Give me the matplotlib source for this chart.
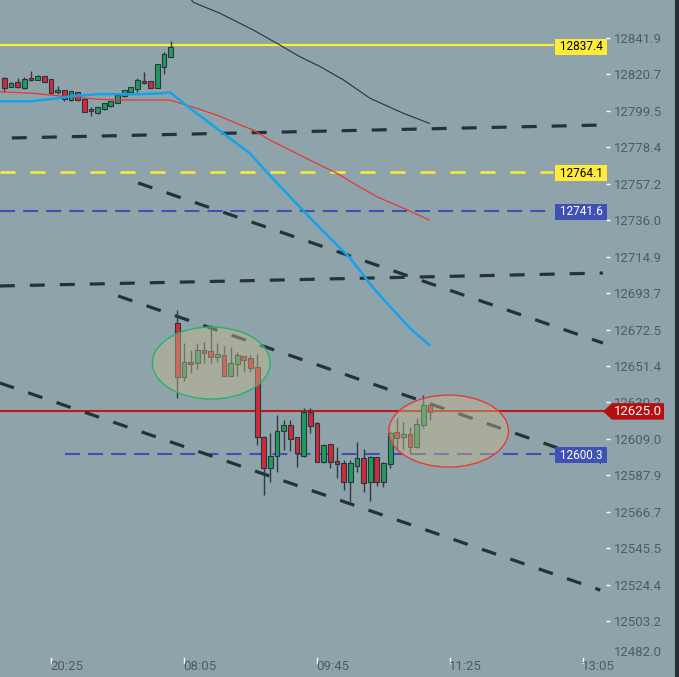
import numpy as np
import matplotlib
matplotlib.use("Agg")
import matplotlib.pyplot as plt
from matplotlib.patches import Ellipse, Polygon, Rectangle
from matplotlib.transforms import blended_transform_factory

plt.rcParams['font.family'] = ['Roboto', 'DejaVu Sans']
plt.rcParams['lines.scale_dashes'] = False

# ---- data ----
idx = np.arange(-27, 38)
opens = [12818.3, 12813.5, 12816.0, 12812.9, 12818.3, 12817.5, 12819.5, 12817.7, 12810.2, 12811.6,
         12805.6, 12810.2, 12806.3, 12800.5, 12798.4, 12800.3, 12802.5, 12804.2, 12807.9, 12810.6,
         12812.3, 12816.8, 12816.8, 12812.9, 12825.1, 12830.9,
         12676.5, 12644.8, 12653.7, 12652.9, 12660.5, 12659.9, 12656.7, 12657.6, 12645.7, 12652.3,
         12656.9, 12655.8, 12650.6, 12610.3, 12592.3, 12599.3, 12613.5, 12616.9, 12610.0, 12599.3,
         12624.8, 12618.1, 12595.8, 12605.9, 12596.2, 12594.9, 12584.2, 12593.5, 12597.8, 12584.2,
         12598.4, 12584.2, 12594.3, 12612.9, 12610.0, 12611.7, 12604.5, 12617.1, 12628.7]
highs = [12819.3, 12816.0, 12818.3, 12818.9, 12822.6, 12820.0, 12819.8, 12817.8, 12813.9, 12811.8,
         12811.2, 12810.4, 12806.5, 12801.5, 12801.8, 12804.0, 12805.4, 12808.7, 12811.6, 12813.3,
         12818.3, 12822.0, 12817.0, 12826.6, 12833.6, 12840.0,
         12683.9, 12664.9, 12660.7, 12664.9, 12665.5, 12675.2, 12664.9, 12663.0, 12662.6, 12659.5,
         12657.1, 12657.6, 12658.3, 12610.5, 12612.7, 12622.9, 12620.0, 12620.0, 12610.2, 12626.8,
         12626.8, 12618.7, 12606.0, 12606.3, 12604.5, 12596.8, 12596.8, 12607.4, 12603.2, 12599.0,
         12598.8, 12595.5, 12613.5, 12621.0, 12619.0, 12616.1, 12621.0, 12634.5, 12629.7]
lows = [12810.4, 12813.1, 12812.5, 12812.1, 12817.0, 12817.2, 12816.0, 12809.4, 12809.2, 12805.4,
        12805.2, 12805.2, 12798.8, 12796.5, 12797.8, 12800.0, 12801.9, 12804.0, 12807.6, 12810.4,
        12810.6, 12815.0, 12812.7, 12812.7, 12821.0, 12830.7,
        12632.6, 12642.8, 12647.5, 12649.4, 12652.9, 12653.3, 12653.9, 12645.5, 12645.5, 12645.7,
        12647.7, 12648.1, 12605.5, 12576.5, 12584.2, 12590.0, 12602.6, 12602.2, 12592.9, 12598.5,
        12612.3, 12595.5, 12595.0, 12592.0, 12586.2, 12579.4, 12572.6, 12590.0, 12578.4, 12573.2,
        12581.7, 12581.0, 12592.0, 12603.0, 12603.0, 12600.3, 12603.5, 12615.2, 12620.0]
closes = [12812.9, 12815.4, 12813.1, 12817.7, 12817.2, 12819.5, 12816.4, 12809.6, 12811.6, 12806.1,
          12810.8, 12805.6, 12799.0, 12799.2, 12801.5, 12803.8, 12805.2, 12808.5, 12811.4, 12813.1,
          12817.2, 12815.4, 12812.9, 12826.4, 12832.4, 12836.3,
          12644.8, 12653.5, 12652.3, 12660.5, 12659.1, 12656.7, 12658.1, 12645.7, 12652.9, 12657.6,
          12654.6, 12650.0, 12610.0, 12592.3, 12599.3, 12613.5, 12616.9, 12608.8, 12600.7, 12624.8,
          12616.7, 12595.8, 12605.3, 12595.5, 12594.3, 12584.2, 12594.9, 12597.8, 12583.6, 12598.4,
          12584.2, 12594.9, 12612.7, 12609.4, 12611.7, 12604.5, 12617.7, 12628.7, 12624.8]

# moving averages (vertices)
ma_blue_x = [-28, -23, -19, -16.7, -12.6, -7.7, -3.6, -2.1, 0.9, 5.9, 9.9, 12.4, 16.4, 20.0, 25.0, 28.5, 31.0, 34.0, 36.9]
ma_blue_y = [12805.0, 12805.0, 12806.7, 12808.1, 12809.2, 12809.0, 12809.6, 12810.2, 12800.9, 12786.4, 12774.8,
             12764.1, 12747.7, 12733.2, 12713.9, 12696.5, 12685.8, 12673.2, 12663.6]
ma_red_x = [-28, -22.7, -17.6, -12.6, -7.7, -2.1, 1.9, 4.9, 7.9, 10.4, 12.9, 16.9, 19.4, 23.0, 25.5, 29.0, 33.0, 36.9]
ma_red_y = [12810.6, 12809.6, 12807.7, 12806.1, 12805.7, 12805.7, 12800.9, 12797.0, 12792.2, 12788.3, 12782.5,
            12774.8, 12769.9, 12763.2, 12757.4, 12749.6, 12742.9, 12736.1]
ma_black_x = [1.0, 1.4, 5.4, 10.4, 14.4, 17.4, 20.5, 24.0, 28.0, 33.0, 36.9]
ma_black_y = [12864.5, 12862.4, 12856.1, 12846.4, 12837.7, 12830.9, 12825.1, 12817.3, 12806.7, 12798.0, 12792.2]

# trend lines (x0, x1, y0, y1)
trend_x0 = [-25.9, -6.9, -27.7, -9.9, -27.7]
trend_x1 = [62.6, 63.0, 63.0, 62.7, 62.6]
trend_y0 = [12783.7, 12757.6, 12697.8, 12692.0, 12641.5]
trend_y1 = [12791.2, 12664.7, 12705.3, 12595.1, 12521.3]

# horizontal levels
level_yellow_solid = 12837.4
level_yellow_dash = 12764.1
level_blue_1 = 12741.6
level_blue_2 = 12600.3
last_price = 12625.0

# ellipses: center x, center y, width, height
ell_cx = [4.1, 39.8]
ell_cy = [12653.1, 12613.6]
ell_w = [17.7, 18.0]
ell_h = [41.8, 41.8]
ell_ec = ['#22b46e', '#e8393f']

ytick_vals = [12841.9, 12820.7, 12799.5, 12778.4, 12757.2, 12736.0, 12714.9, 12693.7, 12672.5,
              12651.4, 12630.2, 12609.0, 12587.9, 12566.7, 12545.5, 12524.4, 12503.2]
xtick_pos = [-20, 0, 20, 40, 60]
xtick_labels = ['20:25', '08:05', '09:45', '11:25', '13:05']

BG = '#8fa3ab'
DARK = '#263238'
TXT = '#4f5c64'
YEL = '#ffeb3b'
BLUE = '#3f51b5'
RED = '#d12a3a'
GREEN = '#1f9b5f'

fig = plt.figure(figsize=(6.79, 6.77), dpi=100, facecolor=BG)
ax = fig.add_axes([0, 0, 606 / 679, 1])
ax.set_facecolor(BG)
ax.set_xlim(-27.67, 63.46)
ax.set_ylim(12470.86, 12863.78)
for s in ax.spines.values():
    s.set_visible(False)

# horizontal levels
ax.axhline(level_yellow_solid, xmin=0, xmax=553 / 606, color=YEL, lw=1.6, zorder=2)
ax.axhline(level_yellow_dash, xmin=0, xmax=553 / 606, color=YEL, lw=1.8, dashes=(10.8, 10.8), zorder=2)
ax.axhline(level_blue_1, xmin=0, xmax=553 / 606, color=BLUE, lw=1.5, dashes=(10.8, 5.8), zorder=2)
ax.axhline(level_blue_2, xmin=65 / 606, xmax=558 / 606, color=BLUE, lw=1.5, dashes=(10.8, 5.8), zorder=2)
ax.axhline(last_price + 1.0, color='#1e7a3c', lw=0.5, zorder=2)
ax.axhline(last_price, color='#c01818', lw=1.5, zorder=2.1)

# trend lines
for x0, x1, y0, y1 in zip(trend_x0, trend_x1, trend_y0, trend_y1):
    ax.plot([x0, x1], [y0, y1], color=DARK, lw=2.3, dashes=(10.8, 10.8),
            solid_capstyle='butt', dash_capstyle='butt', zorder=3)

# candles
o = np.array(opens); c = np.array(closes)
cols = np.where(c >= o, GREEN, RED)
ax.vlines(idx, lows, highs, color='#2e3b42', lw=1.0, zorder=4)
body = np.where(np.abs(c - o) < 0.8, 0.8, c - o)
ax.bar(idx, body, bottom=o, width=0.72, color=cols, edgecolor='#2b363c', linewidth=0.8, zorder=5)

# moving averages
ax.plot(ma_black_x, ma_black_y, color='#2b3338', lw=0.8, zorder=6)
ax.plot(ma_red_x, ma_red_y, color='#e53935', lw=0.9, zorder=6)
ax.plot(ma_blue_x, ma_blue_y, color='#12a3ec', lw=1.8, zorder=6)

# ellipses
for cx, cy, w, h, ec in zip(ell_cx, ell_cy, ell_w, ell_h, ell_ec):
    ax.add_patch(Ellipse((cx, cy), w, h, facecolor='#c8b98c', alpha=0.45, edgecolor='none', zorder=7))
    ax.add_patch(Ellipse((cx, cy), w, h, facecolor='none', edgecolor=ec, lw=1.0, zorder=7))

# y axis on the right
ax.yaxis.tick_right()
ax.set_yticks(ytick_vals)
ax.set_yticklabels(['%.1f' % v for v in ytick_vals])
ax.tick_params(axis='y', length=3, width=1, color='white', pad=3, labelsize=9.5, labelcolor=TXT)
ax.set_xticks([])
fig.text(614 / 679, 1 - 653 / 677, '12482.0', fontsize=9.5, color=TXT, ha='left', va='center')

# time labels inside plot
xtr = ax.get_xaxis_transform()
for p, lab in zip(xtick_pos, xtick_labels):
    ax.plot([p, p], [1 - 663 / 677, 1 - 658 / 677], color='white', lw=1, transform=xtr, clip_on=False)
    ax.text(p - 0.1, 1 - 666.5 / 677, lab, transform=xtr, ha='left', va='center', fontsize=9.5, color=TXT)

# price labels
ytr = blended_transform_factory(ax.transAxes, ax.transData)
for val, fc, tc in [(level_yellow_solid, YEL, 'black'), (level_yellow_dash, YEL, 'black'),
                    (level_blue_1, BLUE, 'white'), (level_blue_2, BLUE, 'white')]:
    ax.text(0.999, val - 0.8, ' %.1f ' % val, transform=ytr, ha='right', va='center', fontsize=8.5,
            color=tc, zorder=9, bbox=dict(boxstyle='square,pad=0.12', fc=fc, ec='none'))

ftr = blended_transform_factory(fig.transFigure, ax.transData)
half = 4.8
poly = Polygon([(603 / 679, last_price), (612 / 679, last_price + half), (664 / 679, last_price + half),
                (664 / 679, last_price - half), (612 / 679, last_price - half)],
               closed=True, facecolor='#b50f0f', edgecolor='none', transform=ftr, zorder=10)
fig.add_artist(poly)
fig.text(638 / 679, last_price, '%.1f' % last_price, transform=ftr, ha='center', va='center',
         fontsize=9.5, color='white', zorder=11)

# dark right border
fig.add_artist(Rectangle((675 / 679, 0), 4 / 679, 1, transform=fig.transFigure, facecolor='#2a2f33',
                         edgecolor='none', zorder=12))

fig.savefig('out.png', dpi=100, facecolor=BG)
